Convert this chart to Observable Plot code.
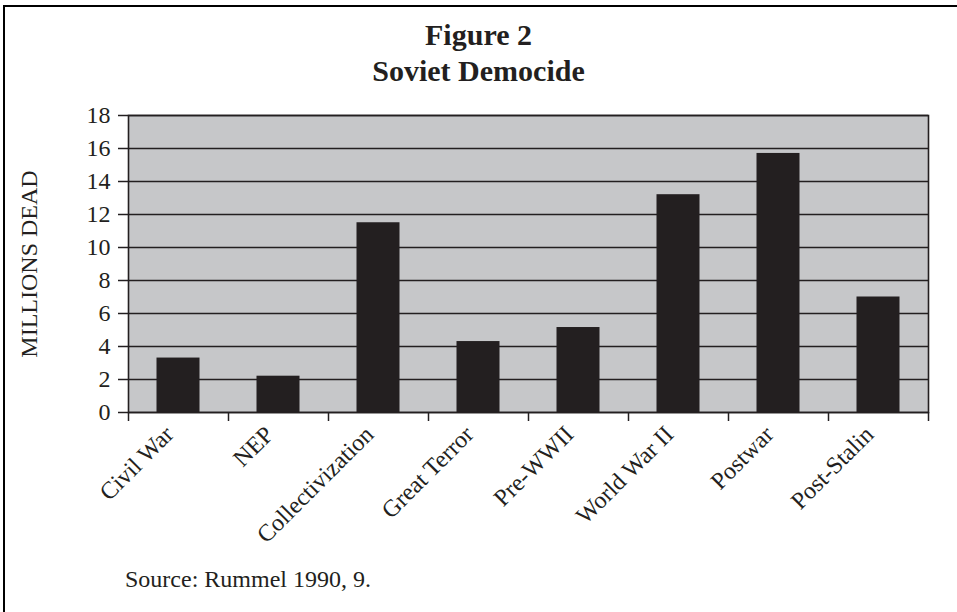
<!DOCTYPE html>
<html><head><meta charset="utf-8">
<script src="https://cdn.jsdelivr.net/npm/d3@7"></script>
<script src="https://cdn.jsdelivr.net/npm/@observablehq/plot@0.6"></script>
<style>
body{margin:0;background:#fff;}
#wrap{position:relative;width:957px;height:612px;overflow:hidden;font-family:"Liberation Serif","Times New Roman",serif;color:#231f20;}
#border{position:absolute;left:3px;top:5px;right:-10px;bottom:-10px;border-top:2.5px solid #000;border-left:2.5px solid #000;}
#title{position:absolute;left:0;width:957px;top:17px;text-align:center;font-weight:bold;font-size:30px;line-height:36px;}
#source{position:absolute;left:125px;top:567px;font-size:24px;line-height:24px;}
#chart{position:absolute;left:0;top:0;}
</style>
</head><body>
<div id="wrap">
  <div id="border"></div>
  <div id="chart"></div>
  <div id="title">Figure 2<br>Soviet Democide</div>
  <div id="source">Source: Rummel 1990, 9.</div>
</div>
<script>
const categories = ["Civil War","NEP","Collectivization","Great Terror","Pre-WWII","World War II","Postwar","Post-Stalin"];
const values = [3.3, 2.2, 11.5, 4.3, 5.15, 13.2, 15.7, 7.0];
const yTicks = [0, 2, 4, 6, 8, 10, 12, 14, 16, 18];
const yLabel = "MILLIONS DEAD";

const data = categories.map((name, i) => ({name, i, value: values[i]}));
const barHalf = 0.215;
const ink = "#231f20";
const font = '"Liberation Serif","Times New Roman",serif';

const chart = Plot.plot({
  width: 957, height: 612,
  marginLeft: 128, marginRight: 29, marginTop: 115, marginBottom: 200,
  style: {fontFamily: font, fontSize: "24px", color: ink, background: "transparent", overflow: "visible"},
  x: {domain: [0, categories.length]},
  y: {domain: [0, 18]},
  marks: [
    Plot.frame({fill: "#c6c7c9"}),
    Plot.ruleY(yTicks, {stroke: ink, strokeWidth: 1.6}),
    Plot.rectY(data, {x1: d => d.i + 0.5 - barHalf, x2: d => d.i + 0.5 + barHalf, y1: 0, y2: "value", fill: ink}),
    Plot.frame({stroke: ink, strokeWidth: 1.6}),
    Plot.axisY({ticks: yTicks, tickSize: 10, tickPadding: 8, fontSize: 24, label: null, stroke: ink, strokeWidth: 1.5, fill: ink}),
    Plot.axisX({ticks: d3.range(0, categories.length + 1), tickSize: 9, tickFormat: () => "", label: null, stroke: ink, strokeWidth: 1.5}),
    Plot.text(data, {x: d => d.i + 0.5, frameAnchor: "bottom", text: "name", rotate: -45, textAnchor: "end", lineAnchor: "middle", dx: -9, dy: 18, fontSize: 24, fill: ink}),
    Plot.text([yLabel], {frameAnchor: "left", textAnchor: "middle", lineAnchor: "middle", rotate: -90, dx: -99, fontSize: 24, fill: ink})
  ]
});
document.getElementById("chart").appendChild(chart);
</script>
</body></html>
